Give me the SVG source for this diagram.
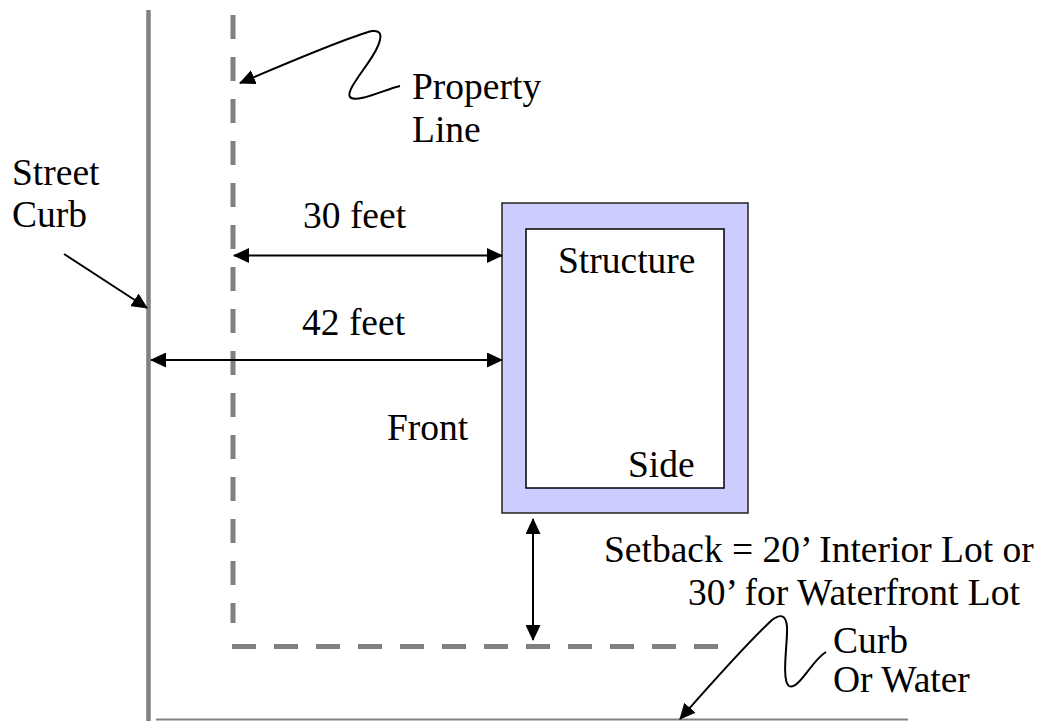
<svg xmlns="http://www.w3.org/2000/svg" width="1039" height="721" viewBox="0 0 1039 721">
  <style>
    .lbl { font-family: "Liberation Serif", "Times New Roman", serif; font-size: 37.5px; fill: #000; }
    .curb { stroke: #808080; fill: none; }
    .prop { stroke: #808080; stroke-width: 5; stroke-dasharray: 24 18; fill: none; }
    .dim { stroke: #000; stroke-width: 2; fill: none; }
  </style>
  <defs>
    <marker id="head" markerUnits="userSpaceOnUse" markerWidth="17" markerHeight="15" refX="15" refY="7.5" orient="auto-start-reverse" viewBox="0 0 17 15">
      <path d="M0,0 L16,7.5 L0,15 z" fill="#000"/>
    </marker>
  </defs>

  <!-- street curb and rear curb / water edge -->
  <g id="street-curb">
    <line class="curb" x1="148.5" y1="10" x2="148.5" y2="721" stroke-width="4.5"/>
    <text class="lbl" x="12" y="185">Street</text>
    <text class="lbl" x="12" y="227">Curb</text>
  </g>
  <g id="rear-curb">
    <line class="curb" x1="156" y1="719.5" x2="908" y2="719.5" stroke-width="2"/>
    <text class="lbl" x="833" y="653">Curb</text>
    <text class="lbl" x="833" y="692">Or Water</text>
  </g>

  <!-- property lines -->
  <g id="property-line">
    <line class="prop" x1="233" y1="15" x2="233" y2="623"/>
    <line class="prop" x1="232" y1="646.5" x2="718" y2="646.5"/>
    <text class="lbl" x="412" y="99">Property</text>
    <text class="lbl" x="412" y="142">Line</text>
  </g>

  <!-- building with setback band -->
  <g id="structure">
    <rect x="502" y="203" width="246" height="310" fill="#CCCCFF" stroke="#222" stroke-width="1.5"/>
    <rect x="526" y="229" width="198" height="259" fill="#FFFFFF" stroke="#000" stroke-width="1.5"/>
    <text class="lbl" x="558" y="273">Structure</text>
    <text class="lbl" x="628" y="477">Side</text>
  </g>

  <g id="labels">
    <text class="lbl" x="303" y="228">30 feet</text>
    <text class="lbl" x="302" y="335">42 feet</text>
    <text class="lbl" x="387" y="440">Front</text>
    <text class="lbl" x="604" y="562">Setback = 20’ Interior Lot or</text>
    <text class="lbl" x="688" y="605">30’ for Waterfront Lot</text>
  </g>

  <g id="connectors">
    <!-- dimension arrows -->
    <line class="dim" x1="234" y1="255.5" x2="502" y2="255.5" marker-start="url(#head)" marker-end="url(#head)"/>
    <line class="dim" x1="151" y1="360" x2="502" y2="360" marker-start="url(#head)" marker-end="url(#head)"/>
    <line class="dim" x1="533" y1="519" x2="533" y2="640" marker-start="url(#head)" marker-end="url(#head)"/>
    <!-- leaders -->
    <line class="dim" x1="64" y1="254" x2="147" y2="308" marker-end="url(#head)"/>
    <path class="dim" d="M 400 86 C 386 89, 356 104, 350 97 C 345 90, 370 64, 377 48 C 383 35, 381 30, 372 31 C 345 38, 290 62, 240 83" marker-end="url(#head)"/>
    <path class="dim" d="M 826 652 C 812 660, 798 691, 789 686 C 781 681, 788 640, 787 627 C 786 614, 780 614, 772 620 C 745 645, 710 685, 680 719" marker-end="url(#head)"/>
  </g>
</svg>
